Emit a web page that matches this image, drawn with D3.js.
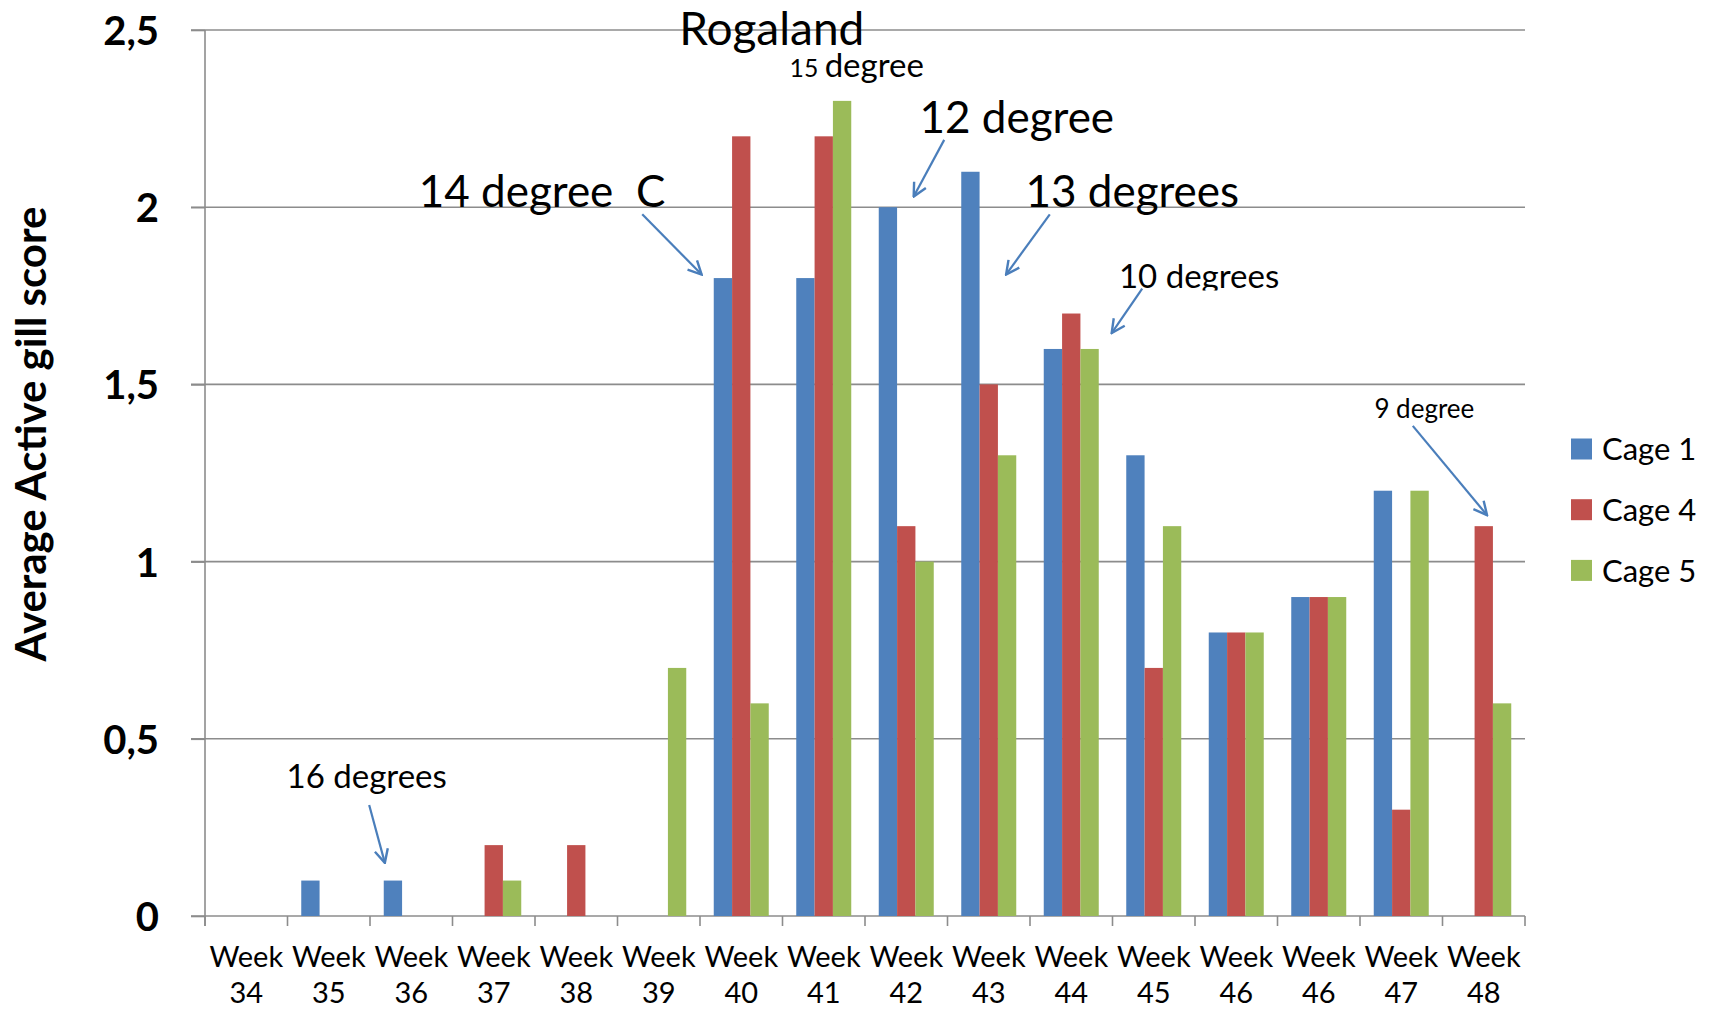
<!DOCTYPE html>
<html>
<head>
<meta charset="utf-8">
<script src="https://cdn.jsdelivr.net/npm/d3@7"></script>
<style>
  body { margin: 0; background: #fff; }
  text { font-family: Lato, "Open Sans", sans-serif; }
</style>
</head>
<body>
<svg id="chart"></svg>
<script>
const width = 1717;
const height = 1010;

// Chart data
const weeks = ["34", "35", "36", "37", "38", "39", "40", "41", "42", "43", "44", "45", "46", "46", "47", "48"];
const seriesNames = ["Cage 1", "Cage 4", "Cage 5"];
const cage1 = [0, 0.1, 0.1, 0, 0, 0, 1.8, 1.8, 2.0, 2.1, 1.6, 1.3, 0.8, 0.9, 1.2, 0];
const cage4 = [0, 0, 0, 0.2, 0.2, 0, 2.2, 2.2, 1.1, 1.5, 1.7, 0.7, 0.8, 0.9, 0.3, 1.1];
const cage5 = [0, 0, 0, 0.1, 0, 0.7, 0.6, 2.3, 1.0, 1.3, 1.6, 1.1, 0.8, 0.9, 1.2, 0.6];
const yTicks = [0, 0.5, 1, 1.5, 2, 2.5];
const colors = ["#4F81BD", "#C0504D", "#9BBB59"];

// Temperature notes: text spot and arrow in category / score units
const notes = [
  { text: "Rogaland", x: 6.87, y: 2.458, size: 46 },
  { text: "degree", small: "15", x: 7.90, y: 2.367, size: 33 },
  { text: "14 degree  C", x: 4.085, y: 2.0, size: 44, from: [5.30, 1.98], to: [6.02, 1.81] },
  { text: "12 degree", x: 9.84, y: 2.209, size: 44, from: [8.96, 2.19], to: [8.59, 2.03] },
  { text: "13 degrees", x: 11.24, y: 2.0, size: 44, from: [10.24, 1.98], to: [9.71, 1.81] },
  { text: "10 degrees", x: 12.05, y: 1.772, size: 33, clip: true, from: [11.36, 1.77], to: [10.99, 1.645] },
  { text: "9 degree", x: 14.78, y: 1.405, size: 26, from: [14.64, 1.383], to: [15.54, 1.131] },
  { text: "16 degrees", x: 1.96, y: 0.361, size: 33, from: [1.99, 0.313], to: [2.18, 0.15] }
];

const margin = { top: 30, right: 192, bottom: 94, left: 205 };
const plotW = width - margin.left - margin.right;
const plotH = height - margin.top - margin.bottom;

const svg = d3.select("#chart")
  .attr("width", width)
  .attr("height", height);

svg.append("rect").attr("width", width).attr("height", height).attr("fill", "#fff");

const g = svg.append("g").attr("transform", `translate(${margin.left},${margin.top})`);

// Scales
const x = d3.scaleBand()
  .domain(d3.range(weeks.length))
  .range([0, plotW])
  .paddingInner(1 / 3)
  .paddingOuter(1 / 6);

const xSub = d3.scaleBand()
  .domain(seriesNames)
  .range([0, x.bandwidth()]);

const xLin = d3.scaleLinear().domain([0, weeks.length]).range([0, plotW]);

const y = d3.scaleLinear().domain([0, 2.5]).range([plotH, 0]);

// Gridlines
g.append("g")
  .selectAll("line")
  .data(yTicks)
  .enter().append("line")
  .attr("x1", -14)
  .attr("x2", plotW)
  .attr("y1", d => y(d))
  .attr("y2", d => y(d))
  .attr("stroke", "#8c8c8c")
  .attr("stroke-width", 1.6);

// Y axis
const yAxis = g.append("g")
  .call(d3.axisLeft(y).tickValues(yTicks).tickSize(14).tickPadding(32)
    .tickFormat(d => String(d).replace(".", ",")));
yAxis.select(".domain").remove();
yAxis.selectAll("line").attr("stroke", "#8c8c8c").attr("stroke-width", 1.6);
yAxis.selectAll("text")
  .attr("font-size", 40)
  .attr("font-weight", "bold")
  .attr("fill", "#000")
  .attr("dy", "0.36em");

g.append("line")
  .attr("x1", 0).attr("x2", 0)
  .attr("y1", 0).attr("y2", plotH + 10)
  .attr("stroke", "#8c8c8c")
  .attr("stroke-width", 1.6);

// X axis ticks on category borders
g.append("g")
  .selectAll("line")
  .data(d3.range(weeks.length + 1))
  .enter().append("line")
  .attr("x1", d => xLin(d))
  .attr("x2", d => xLin(d))
  .attr("y1", plotH)
  .attr("y2", plotH + 10)
  .attr("stroke", "#8c8c8c")
  .attr("stroke-width", 1.6);

// X labels (two lines)
const xLabels = g.append("g")
  .selectAll("text")
  .data(weeks)
  .enter().append("text")
  .attr("text-anchor", "middle")
  .attr("font-size", 29)
  .attr("fill", "#000")
  .attr("transform", (d, i) => `translate(${x(i) + x.bandwidth() / 2},${plotH})`);
xLabels.append("tspan").attr("x", 0).attr("y", 51).text("Week");
xLabels.append("tspan").attr("x", 0).attr("y", 87).text(d => d);

// Bars
const series = [cage1, cage4, cage5];
series.forEach((values, s) => {
  g.append("g")
    .selectAll("rect")
    .data(values)
    .enter().append("rect")
    .attr("x", (d, i) => x(i) + xSub(seriesNames[s]))
    .attr("y", d => y(d))
    .attr("width", xSub.bandwidth())
    .attr("height", d => plotH - y(d))
    .attr("fill", colors[s]);
});

// Y axis title
svg.append("text")
  .attr("transform", `translate(46,434) rotate(-90)`)
  .attr("text-anchor", "middle")
  .attr("font-size", 42)
  .attr("font-weight", "bold")
  .attr("fill", "#000")
  .text("Average Active gill score");

// Legend
const legend = svg.append("g")
  .selectAll("g")
  .data(seriesNames)
  .enter().append("g")
  .attr("transform", (d, i) => `translate(1571,${449 + i * 60.7})`);
legend.append("rect")
  .attr("y", -10.5)
  .attr("width", 21)
  .attr("height", 21)
  .attr("fill", (d, i) => colors[i]);
legend.append("text")
  .attr("x", 31)
  .attr("dy", "0.36em")
  .attr("font-size", 31)
  .attr("fill", "#000")
  .text(d => d);

// Arrow marker
svg.append("defs").append("marker")
  .attr("id", "arrow")
  .attr("viewBox", "0 0 12 12")
  .attr("refX", 11)
  .attr("refY", 6)
  .attr("markerWidth", 16)
  .attr("markerHeight", 16)
  .attr("markerUnits", "userSpaceOnUse")
  .attr("orient", "auto")
  .append("path")
  .attr("d", "M1,1 L11,6 L1,11")
  .attr("fill", "none")
  .attr("stroke", "#4A7EBB")
  .attr("stroke-width", 1.8);

svg.select("defs").append("clipPath")
  .attr("id", "noteClip")
  .append("rect")
  .attr("x", margin.left + xLin(10))
  .attr("y", margin.top + y(1.9))
  .attr("width", xLin(4))
  .attr("height", y(1.765) - y(1.9));

// Notes and arrows
notes.forEach(n => {
  const t = g.append("text")
    .attr("x", xLin(n.x))
    .attr("y", y(n.y))
    .attr("text-anchor", "middle")
    .attr("font-size", n.size)
    .attr("fill", "#000")
    .style("white-space", "pre");
  if (n.small) {
    t.append("tspan").attr("font-size", n.size * 0.75).text(n.small + " ");
  }
  t.append("tspan").text(n.text);
  if (n.clip) {
    t.attr("transform", `translate(${-margin.left},${-margin.top})`)
      .attr("x", margin.left + xLin(n.x))
      .attr("y", margin.top + y(n.y))
      .attr("clip-path", "url(#noteClip)");
  }
  if (n.from) {
    g.append("line")
      .attr("x1", xLin(n.from[0]))
      .attr("y1", y(n.from[1]))
      .attr("x2", xLin(n.to[0]))
      .attr("y2", y(n.to[1]))
      .attr("stroke", "#4A7EBB")
      .attr("stroke-width", 2.2)
      .attr("marker-end", "url(#arrow)");
  }
});
</script>
</body>
</html>
